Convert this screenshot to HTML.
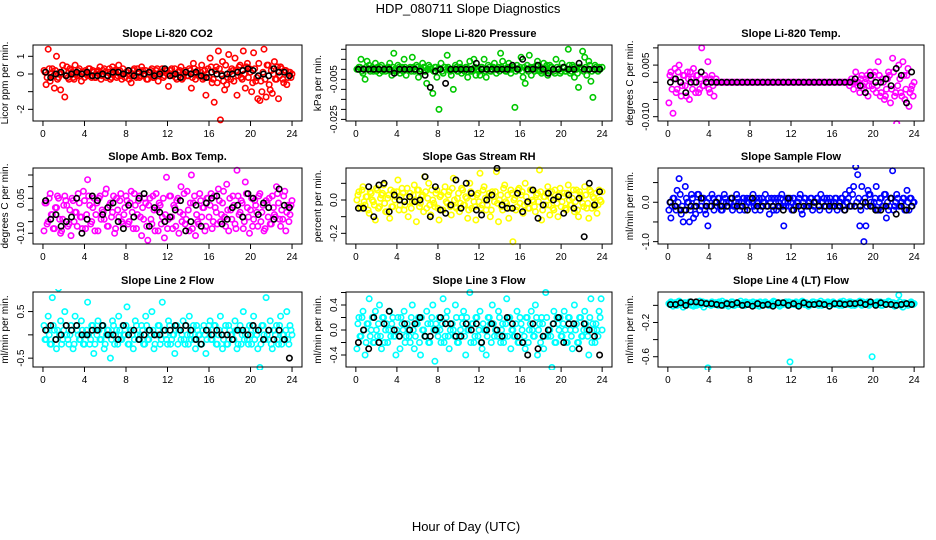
<!DOCTYPE html>
<html><head><meta charset="utf-8"><style>
html,body{margin:0;padding:0;background:#fff;}
svg{display:block;font-family:"Liberation Sans",Arial,sans-serif;}
</style></head><body>
<svg id="chart" width="936" height="540" viewBox="0 0 936 540">
<text x="468" y="13" font-size="13" text-anchor="middle">HDP_080711  Slope Diagnostics</text>
<text x="466" y="531" font-size="13" text-anchor="middle">Hour of Day (UTC)</text>
</svg>
<script>
// shared x categories (hours)
const xTicks = [0,4,8,12,16,20,24];
const colorHours = [];
for (let i = 0; i < 120; i++) colorHours.push(0.1 + i * 0.2);
const bandHours = [];
for (let i = 0; i < 120; i++) bandHours.push(0.2 + i * 0.2);
const blackHours = [];
for (let i = 0; i < 48; i++) blackHours.push(0.25 + i * 0.5);

// series values (scaled integers; see unit divisors in panel configs)
const co2Vals = [2,-6,14,-4,3,-8,10,-2,-9,5,-13,4,-3,2,-2,5,-1,3,-4,1,
2,-1,3,-2,1,-2,2,4,-1,3,-2,1,-3,4,2,-2,5,-1,3,-2,
1,-3,-5,2,-1,3,-2,4,-1,2,-3,1,3,-2,2,-4,1,3,-1,2,
-7,2,-1,3,-3,1,4,-2,2,-1,3,-8,6,-3,2,-1,5,-2,-12,3,
9,-5,-16,4,13,-26,7,-9,-6,11,-3,2,9,-12,4,-2,13,-8,6,3,
-10,12,-4,-14,-15,-10,14,-13,5,-9,-11,7,-3,-14,4,-3,2,-6,1,-2];
const co2Band = [1,-2,3,0,-1,2,-3,1,0,2,-1,-2,3,1,-3,0,2,-1,1,-2,
0,3,-1,2,-2,1,0,-3,2,1,-1,3,-2,0,1,-1,2,-3,0,1,
2,-1,0,3,-2,1,-1,2,0,-3,1,2,-2,0,3,-1,1,-2,2,0,
-1,3,0,-2,1,2,-3,0,1,-1,2,-2,3,0,-1,1,-3,2,0,-2,
4,-3,2,-5,3,0,-4,5,-2,1,3,-4,2,-1,5,-3,0,4,-2,1,
-5,3,-2,6,-4,1,-3,5,-6,2,0,-3,4,-1,3,-5,2,-2,1,0];
const co2Black = [1,-2,0,1,-1,0,1,0,1,-1,-1,0,-1,1,1,0,2,-1,1,0,1,-1,0,3,-1,0,-2,1,0,1,-1,-2,1,0,-1,0,0,1,2,3,2,-1,0,-1,3,1,1,-1];
const presVals = [0,1,5,-2,-5,4,2,0,-1,3,1,-2,2,0,-1,1,3,-3,8,0,
2,-2,1,5,-3,0,1,6,-1,2,-4,0,3,-1,-7,2,0,-12,1,-4,
-20,3,-2,1,7,0,-3,-10,2,-1,3,-2,0,1,-4,4,-1,5,-3,0,
-3,1,5,-4,2,-1,0,3,-2,1,8,4,0,-1,3,-2,1,-19,2,0,
6,-4,-7,2,7,-3,1,0,4,-1,-2,3,0,-3,2,1,-1,5,0,-2,
3,1,-1,10,-2,2,-4,0,-9,1,9,6,-3,4,-6,-14,2,0,1,-29];
const presBand = [0,1,-1,0,1,0,-1,1,0,-1,0,1,-1,0,0,1,-1,1,0,-1,
1,0,-1,1,0,0,-1,1,0,1,-1,0,1,-1,0,1,0,-1,1,0,
0,-1,1,0,1,-1,0,0,1,-1,1,0,-1,1,0,-1,0,1,0,-1,
1,0,-1,0,1,-1,1,0,0,-1,1,0,-1,1,0,0,1,-1,0,1,
-1,1,0,-1,1,0,-1,2,0,1,-1,0,2,-1,1,0,-2,1,0,-1,
1,-1,0,2,-1,1,0,-2,1,0,-1,1,0,2,-1,0,1,-1,0,1];
const presBlack = [0,0,0,0,0,0,0,-2,0,0,0,0,-1,-3,-9,-1,0,-7,0,0,0,0,0,3,0,0,0,0,0,0,2,0,5,0,0,2,0,-2,0,0,1,0,0,3,0,0,0,0];
const tempVals = [-6,3,-9,4,-2,5,-4,2,-1,3,-5,1,4,-3,2,-2,10,-1,1,6,
-3,2,-4,1,0,0,0,0,0,0,0,0,0,0,0,0,0,0,0,0,
0,0,0,0,0,0,0,0,0,0,0,0,0,0,0,0,0,0,0,0,
0,0,0,0,0,0,0,0,0,0,0,0,0,0,0,0,0,0,0,0,
0,0,0,0,0,0,0,0,-1,1,-2,3,-1,-3,2,-2,1,-4,3,-1,
2,-3,6,-4,1,-5,-2,3,-6,7,-4,-12,5,-3,6,-5,2,-7,-2,-4];
const tempBand = [2,-2,1,-3,3,0,-1,2,-4,1,3,-2,0,2,-3,1,-1,2,0,-2,
1,-1,0,0,0,0,0,0,0,0,0,0,0,0,0,0,0,0,0,0,
0,0,0,0,0,0,0,0,0,0,0,0,0,0,0,0,0,0,0,0,
0,0,0,0,0,0,0,0,0,0,0,0,0,0,0,0,0,0,0,0,
0,0,0,0,0,0,0,0,0,0,0,0,0,1,-1,0,2,-1,1,-2,
3,-1,2,-3,0,-4,1,2,-2,3,-3,-1,1,-4,2,-2,4,-3,-1,0];
const tempBlack = [0,1,0,-3,0,0,3,0,0,0,0,0,0,0,0,0,0,0,0,0,0,0,0,0,0,0,0,0,0,0,0,0,0,0,0,0,1,-1,-3,2,0,0,1,-1,4,2,-6,3];
const ambVals = [-9,3,-5,7,-2,-8,1,5,-10,-4,6,2,-6,-11,4,-1,-7,3,-3,8,
-8,13,2,-5,5,-2,-9,6,0,-4,9,-7,3,-1,-10,5,-3,7,-6,1,
4,-5,8,-8,2,-2,6,-11,-4,3,-13,5,-6,0,7,-9,2,-3,-12,14,
-4,6,-8,1,4,-10,10,-2,-6,8,-9,15,3,-11,-5,7,-3,1,-7,5,
2,-8,6,-1,9,-5,3,-3,11,-9,0,6,-6,17,-2,4,-8,12,1,-10,
5,-4,2,-7,7,-1,-9,4,-3,-6,6,-2,10,3,-7,-4,8,-1,-5,2];
const ambBand = [3,-6,5,-2,-8,1,6,-4,-9,2,4,-7,0,5,-5,-1,7,-3,-8,4,
-2,6,-6,1,-9,3,5,-4,-1,7,-7,2,-3,6,-8,0,4,-5,-2,6,
-6,3,-1,7,-8,4,-3,1,5,-7,2,-4,6,-9,0,3,-6,5,-2,-8,
6,-3,2,-7,5,-1,-5,7,-4,0,3,-8,6,-2,-6,4,1,-9,5,-3,
7,-5,1,-6,4,-2,8,-7,0,5,-4,2,-8,6,-1,3,-5,7,-3,0,
-7,4,-1,6,-5,2,-8,3,5,-6,1,-3,7,-4,0,6,-9,2,-2,4];
const ambBlack = [4,-4,-2,-7,-5,-3,5,-10,-4,6,4,-2,1,3,-5,-8,2,-3,5,7,-7,1,-1,-5,-3,0,4,-9,-5,2,-7,3,5,6,-6,-4,1,2,-3,7,5,-2,3,1,-4,9,2,1];
const rhVals = [0,5,-5,8,-3,2,-8,4,-1,-12,6,-4,3,9,-7,1,-11,-4,5,2,
12,-3,7,-6,2,-10,4,-1,9,-13,6,-2,3,14,-5,10,-9,0,-4,6,
-12,3,-6,8,-2,5,-9,13,-4,1,-7,7,-3,2,-11,10,-5,-1,-12,4,
16,-3,8,-6,2,-10,5,-1,17,-13,3,-6,9,-2,-11,6,-25,1,-4,7,
3,-8,10,-2,-5,6,-1,-7,4,18,-12,2,-3,8,-9,5,-6,1,-10,7,
-1,4,-6,9,-3,1,-7,6,-10,3,-2,8,-5,-11,5,2,-4,-8,6,-1];
const rhBand = [3,-4,6,-1,2,-6,5,0,-3,7,-5,1,4,-2,-7,3,6,-4,0,5,
-6,2,4,-3,7,-1,-5,3,0,6,-4,2,-7,5,1,-3,6,-2,4,-5,
2,-6,5,-1,3,-4,7,0,-5,4,-2,6,-3,1,-6,5,2,-4,3,-1,
-5,6,1,-3,4,-6,2,5,-2,0,-4,7,-1,3,-5,4,0,-6,6,-2,
5,-3,2,-5,6,0,-4,3,-1,5,-6,2,4,-3,1,-5,6,-2,3,-4,
2,-5,4,0,-3,6,-1,-6,5,2,-4,3,-2,6,-5,1,4,-3,0,5];
const rhBlack = [-5,-5,8,-10,9,10,-7,3,0,-1,2,-1,0,14,-10,8,-6,-8,-3,12,-5,10,4,-6,-9,0,3,19,-3,-5,-5,4,-7,-1,6,-11,-3,4,0,2,-8,3,-5,1,-22,10,-3,5];
const sampVals = [-2,-4,1,-1,3,6,-3,-5,4,0,-5,2,-4,-3,2,-2,-1,1,-3,-6,
-1,2,-2,0,1,-1,-2,2,0,-1,1,-2,-1,2,0,-1,1,-2,1,0,
-1,2,-2,0,1,-1,0,2,-1,-3,1,-2,0,1,-1,2,-6,-1,0,1,
-2,1,-1,0,2,-3,1,-1,0,1,-2,0,1,-1,2,0,-1,1,-2,0,
-1,1,-2,0,1,-1,2,0,3,-1,4,9,7,-6,4,-10,-6,3,2,-1,
0,4,-2,1,-1,2,-4,-2,1,8,-1,2,-1,0,1,-2,3,-2,1,0];
const sampBand = [0,-1,1,-2,0,2,-1,-2,1,0,-2,1,-1,0,2,-1,1,-2,0,1,
-1,1,0,-1,1,-2,0,1,-1,0,1,-1,0,1,-2,0,1,-1,0,1,
0,-1,1,0,-2,1,0,-1,1,0,-1,1,-2,0,1,-1,0,1,-1,0,
1,-1,0,1,-2,0,1,-1,0,1,-1,0,1,-2,0,1,-1,0,1,-1,
0,1,-1,0,1,-2,0,1,-1,2,-1,0,1,-2,0,1,-1,2,0,-1,
1,-2,0,1,-1,2,0,-1,1,-2,0,1,-1,0,1,-2,0,1,-1,0];
const sampBlack = [0,-1,-2,-2,-1,-1,1,-1,-1,0,-1,-1,1,-1,-1,-2,1,-1,-1,-1,-1,-1,-2,1,-2,-1,-1,-1,0,-1,-1,-1,-1,-1,-2,-1,-1,-1,0,-1,-2,-2,-1,1,-3,-1,-2,-1];
const line2Vals = [2,-1,4,-2,8,1,-3,10,3,-1,5,0,-2,2,-3,4,1,-1,3,-2,
0,7,-2,2,-4,1,3,-1,2,-3,0,1,-5,3,-2,1,4,-1,2,0,
6,-2,1,-3,3,0,-1,2,-2,4,-1,1,5,-3,0,2,-2,7,1,-1,
3,-2,0,-4,2,1,-1,3,-2,0,4,-1,2,-3,1,0,-2,2,-4,1,
3,-1,2,-2,0,4,-3,1,-2,2,0,-1,3,-3,1,-2,5,0,-1,2,
-2,4,1,-3,-7,2,0,8,-1,3,-3,1,2,-2,4,0,-1,5,-2,1];
const line2Band = [-1,1,0,-2,2,-1,1,0,-2,1,2,-1,0,1,-2,2,0,-1,1,-2,
1,0,-1,2,-2,0,1,-1,2,-2,1,0,-1,2,0,-2,1,-1,0,2,
-2,1,0,-1,2,-1,0,1,-2,2,-1,0,1,-2,0,2,-1,1,0,-2,
2,-1,0,1,-2,1,0,-1,2,-2,0,1,-1,2,0,-2,1,0,-1,2,
-1,0,2,-2,1,0,-1,2,-2,1,0,-1,1,-2,2,0,-1,1,-2,0,
2,-1,0,1,-2,2,-1,0,1,-2,1,0,-1,2,-2,0,1,-1,2,0];
const line2Black = [1,2,-1,0,2,1,2,0,0,1,1,2,0,0,-1,2,0,1,-1,0,1,0,0,1,1,2,1,2,1,-1,-2,1,0,1,0,0,-1,1,1,0,2,1,-1,1,-1,1,-1,-5];
const line3Vals = [-3,2,-1,3,-4,1,5,0,-2,3,-1,4,-3,2,0,-2,3,1,-1,-4,
2,-3,1,3,-1,0,-2,4,-3,1,2,-4,0,-1,3,-2,1,4,-5,0,
2,-2,5,-1,3,-3,1,0,4,-2,-1,2,3,-4,0,6,1,-2,2,-1,
3,-3,0,-4,2,1,4,-1,0,3,-2,1,-1,5,2,-3,0,-1,3,-2,
1,-2,-3,2,0,3,-1,4,-4,1,2,-3,6,-1,0,-6,3,-2,1,2,
-1,3,-2,2,0,-3,4,1,-2,2,-1,3,0,-4,5,1,-2,0,3,5];
const line3Band = [1,-1,2,0,-2,1,-1,2,-2,0,1,-1,2,-2,1,0,-1,2,-1,0,
-1,2,0,-2,1,-1,2,0,-1,1,-2,2,0,-1,1,-2,2,0,1,-1,
0,1,-2,2,-1,0,1,-1,2,-2,0,1,-1,2,0,-2,1,-1,2,0,
-2,1,0,-1,2,-2,1,0,-1,2,0,-2,1,-1,2,0,-1,1,-2,2,
0,-1,2,-2,1,0,-1,2,0,-2,1,-1,2,0,-1,1,-2,2,0,-1,
1,0,-2,2,-1,1,0,-2,2,-1,0,1,-1,2,-2,0,1,-1,2,0];
const line3Black = [-2,0,-3,2,-2,1,3,0,-1,1,0,1,2,-1,-1,0,2,1,1,-1,-1,1,0,1,-2,0,1,0,-1,2,1,-1,-2,-4,1,-3,-1,0,1,2,-2,1,1,-3,1,0,-1,-4];
const line4Vals = [2,4,-1,3,0,5,1,-2,3,2,4,0,-1,3,2,5,1,-2,3,-73,
2,4,1,3,0,2,5,1,3,-1,2,4,0,3,1,5,2,0,3,1,
2,4,0,3,-1,2,1,4,2,0,3,5,1,2,-1,3,2,4,0,-66,
3,1,4,0,2,5,1,3,-1,2,4,1,3,0,5,2,1,3,-1,2,
4,1,2,0,3,5,1,2,4,0,3,1,2,5,0,3,2,4,1,-60,
2,3,1,4,0,3,2,5,1,3,-1,2,12,0,-2,3,1,2,4,1];
const line4Band = [1,3,2,0,4,1,2,3,0,2,4,1,3,0,2,1,4,2,3,1,
0,2,3,1,4,2,0,3,1,2,4,0,2,3,1,2,0,4,1,3,
2,0,3,1,4,2,1,3,0,2,1,4,2,3,0,1,3,2,4,1,
2,3,0,1,4,2,3,1,0,2,4,1,3,2,0,3,1,4,2,1,
3,1,2,4,0,2,3,1,4,2,0,3,2,1,4,1,3,0,2,3,
1,4,2,0,3,1,2,4,1,3,0,2,4,1,3,2,0,3,1,2];
const line4Black = [1,1,3,0,4,4,3,2,2,1,0,2,1,3,0,1,-1,2,0,1,-1,3,3,0,2,-1,3,1,1,2,1,-1,2,2,1,2,2,3,1,4,0,3,1,1,0,1,2,1];

// y tick values and printed labels
const co2Ticks = [1,0,-1,-2], co2Labels = ["1","0","","-2"];
const presTicks = [0.010,0.005,0,-0.005,-0.010,-0.015,-0.020,-0.025], presLabels = ["","","","-0.005","","","","-0.025"];
const tempTicks = [0.010,0.005,0,-0.005,-0.010], tempLabels = ["","0.005","","","-0.010"];
const ambTicks = [0.15,0.10,0.05,0,-0.05,-0.10], ambLabels = ["","","0.05","","","-0.10"];
const rhTicks = [0.1,0,-0.1,-0.2], rhLabels = ["","0.0","","-0.2"];
const sampTicks = [0.5,0,-0.5,-1.0], sampLabels = ["","0.0","","-1.0"];
const line2Ticks = [0.5,0,-0.5], line2Labels = ["0.5","","-0.5"];
const line3Ticks = [0.6,0.4,0.2,0,-0.2,-0.4], line3Labels = ["","0.4","","0.0","","-0.4"];
const line4Ticks = [0,-0.2,-0.4,-0.6], line4Labels = ["","-0.2","","-0.6"];

const svg = document.getElementById('chart');
const NS = 'http://www.w3.org/2000/svg';
function mk(tag, attrs){ const e=document.createElementNS(NS,tag); for(const k in attrs) e.setAttribute(k,attrs[k]); return e; }

const cols = [{l:33,r:302},{l:346,r:612},{l:658,r:924}];
const rows = [{t:45,b:121},{t:168,b:244},{t:292,b:367}];

const panels = [
 {key:'co2', title:'Slope Li-820 CO2', ylab:'Licor ppm per min.', col:0,row:0, color:'#ff0000', vals:co2Vals, band:co2Band, blk:co2Black, div:10, ymin:-2.66, ymax:1.64, ticks:co2Ticks, labels:co2Labels},
 {key:'pressure', title:'Slope Li-820 Pressure', ylab:'kPa per min.', col:1,row:0, color:'#00c800', vals:presVals, band:presBand, blk:presBlack, div:1000, ymin:-0.0258, ymax:0.01215, ticks:presTicks, labels:presLabels},
 {key:'temp', title:'Slope Li-820 Temp.', ylab:'degrees C per min.', col:2,row:0, color:'#ff00ff', vals:tempVals, band:tempBand, blk:tempBlack, div:1000, ymin:-0.01125, ymax:0.01084, ticks:tempTicks, labels:tempLabels},
 {key:'amb-box-temp', title:'Slope Amb. Box Temp.', ylab:'degrees C per min.', col:0,row:1, color:'#ff00ff', vals:ambVals, band:ambBand, blk:ambBlack, div:100, ymin:-0.146, ymax:0.18, ticks:ambTicks, labels:ambLabels},
 {key:'gas-rh', title:'Slope Gas Stream RH', ylab:'percent per min.', col:1,row:1, color:'#ffff00', vals:rhVals, band:rhBand, blk:rhBlack, div:100, ymin:-0.264, ymax:0.192, ticks:rhTicks, labels:rhLabels},
 {key:'sample-flow', title:'Slope Sample Flow', ylab:'ml/min per min.', col:2,row:1, color:'#0000ff', vals:sampVals, band:sampBand, blk:sampBlack, div:10, ymin:-1.06, ymax:0.87, ticks:sampTicks, labels:sampLabels},
 {key:'line2-flow', title:'Slope Line 2 Flow', ylab:'ml/min per min.', col:0,row:2, color:'#00ffff', vals:line2Vals, band:line2Band, blk:line2Black, div:10, ymin:-0.69, ymax:0.92, ticks:line2Ticks, labels:line2Labels},
 {key:'line3-flow', title:'Slope Line 3 Flow', ylab:'ml/min per min.', col:1,row:2, color:'#00ffff', vals:line3Vals, band:line3Band, blk:line3Black, div:10, ymin:-0.592, ymax:0.608, ticks:line3Ticks, labels:line3Labels},
 {key:'line4-flow', title:'Slope Line 4 (LT) Flow', ylab:'ml/min per min.', col:2,row:2, color:'#00ffff', vals:line4Vals, band:line4Band, blk:line4Black, div:100, ymin:-0.72, ymax:0.156, ticks:line4Ticks, labels:line4Labels}
];

panels.forEach(p => {
  const c = cols[p.col], r = rows[p.row];
  const g = mk('g', {});
  
  
  svg.appendChild(g);
  const span = 24 * 1.08;
  const xS = h => c.l + (h + 0.96) / span * (c.r - c.l);
  const yS = v => r.b - (v - p.ymin) / (p.ymax - p.ymin) * (r.b - r.t);

  const title = mk('text', {x:(c.l+c.r)/2, y:r.t-8, 'font-size':11, 'font-weight':'bold', 'text-anchor':'middle'});
  title.textContent = p.title;
  
  
  g.appendChild(title);

  const cy = (r.t + r.b) / 2, yx = c.l - 25;
  const yl = mk('text', {x:yx, y:cy, 'font-size':10, 'text-anchor':'middle', transform:`rotate(-90 ${yx} ${cy})`});
  yl.textContent = p.ylab;
  
  
  g.appendChild(yl);

  const clipId = 'clip-' + p.key;
  const cp = mk('clipPath', {id:clipId});
  cp.appendChild(mk('rect', {x:c.l-3, y:r.t-3, width:c.r-c.l+6, height:r.b-r.t+6}));
  g.appendChild(cp);
  const pts = mk('g', {'clip-path':`url(#${clipId})`, fill:'none', 'stroke-width':1.6});
  
  
  g.appendChild(pts);
  p.band.forEach((v, i) => {
    const ci = mk('circle', {cx:xS(bandHours[i]).toFixed(1), cy:yS(v / p.div).toFixed(1), r:2.7, stroke:p.color});
    
    
    pts.appendChild(ci);
  });
  p.vals.forEach((v, i) => {
    const ci = mk('circle', {cx:xS(colorHours[i]).toFixed(1), cy:yS(v / p.div).toFixed(1), r:2.7, stroke:p.color});
    
    
    pts.appendChild(ci);
  });
  p.blk.forEach((v, i) => {
    const ci = mk('circle', {cx:xS(blackHours[i]).toFixed(1), cy:yS(v / p.div).toFixed(1), r:2.7, stroke:'#000'});
    
    
    pts.appendChild(ci);
  });

  const box = mk('rect', {x:c.l, y:r.t, width:c.r-c.l, height:r.b-r.t, fill:'none', stroke:'#000', 'stroke-width':1});
  
  
  g.appendChild(box);

  const xa = mk('g', {stroke:'#000', 'stroke-width':1});
  
  
  g.appendChild(xa);
  xa.appendChild(mk('line', {x1:xS(0), x2:xS(24), y1:r.b, y2:r.b}));
  xTicks.forEach(t => {
    const x = xS(t);
    xa.appendChild(mk('line', {x1:x, x2:x, y1:r.b, y2:r.b+5}));
    const tl = mk('text', {x:x, y:r.b+16, 'font-size':10, 'text-anchor':'middle', stroke:'none'});
    tl.textContent = t;
    
    
    xa.appendChild(tl);
  });

  const ya = mk('g', {stroke:'#000', 'stroke-width':1});
  
  
  g.appendChild(ya);
  const ys = p.ticks.map(yS);
  ya.appendChild(mk('line', {x1:c.l, x2:c.l, y1:Math.min(...ys), y2:Math.max(...ys)}));
  p.ticks.forEach((t, i) => {
    const y = yS(t);
    ya.appendChild(mk('line', {x1:c.l-5, x2:c.l, y1:y, y2:y}));
    if (p.labels[i]) {
      const lx = c.l - 9;
      const tl = mk('text', {x:lx, y:y, 'font-size':10, 'text-anchor':'middle', stroke:'none', transform:`rotate(-90 ${lx} ${y})`});
      tl.textContent = p.labels[i];
      
      
      ya.appendChild(tl);
    }
  });
});
</script>
</body></html>
